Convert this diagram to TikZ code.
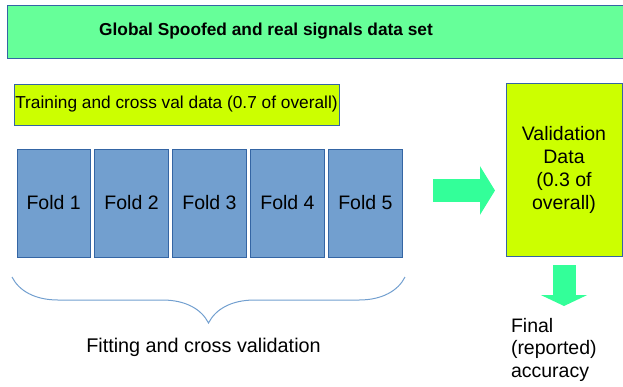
\documentclass[tikz,border=0pt]{standalone}
\usepackage{fontspec}
\setmainfont{Liberation Sans}
\usetikzlibrary{positioning, arrows.meta, decorations.pathreplacing}
\definecolor{boxgreen}{HTML}{66FF99}
\definecolor{dataylw}{HTML}{CCFF00}
\definecolor{foldblue}{HTML}{729FCF}
\definecolor{edgeblue}{HTML}{3465A4}
\definecolor{arrowgreen}{HTML}{33FF99}
\tikzset{
    x=1pt, y=-1pt, % Work in pixel units of the original drawing
    every node/.style={inner sep=0pt, outer sep=0pt},
    box/.style={ % Sets the properties for each filled box
        draw=edgeblue,
        line width=1pt
    },
    fold/.style={
        box,
        fill=foldblue,
        minimum width=73.2pt,
        minimum height=108pt,
        font=\fontsize{19.5}{23}\selectfont
    },
    fat arrow/.style={ % Thick block arrows
        arrowgreen,
        line width=23pt,
        -{Triangle[width=48pt, length=15pt]}
    }
}

\begin{document}
\begin{tikzpicture}
    \useasboundingbox (0,0) rectangle (623,386);
    \clip (0,0) rectangle (623,386);

    \node[box, fill=boxgreen, anchor=north west, minimum width=625pt, minimum height=53pt] (global) at (7,5) {};
    \node[font=\bfseries\fontsize{17.3}{20}\selectfont] (title) at (266,31.5) {Global Spoofed and real signals data set};

    \node[box, fill=dataylw, anchor=north west, minimum width=325pt, minimum height=41pt,
          font=\fontsize{17.3}{20}\selectfont] (train) at (14,84) {Training and cross val data (0.7 of overall)};

    \node[fold, anchor=north west]      (fold1) at (17,149) {Fold 1};
    \node[fold, right=4.75pt of fold1]  (fold2) {Fold 2};
    \node[fold, right=4.75pt of fold2]  (fold3) {Fold 3};
    \node[fold, right=4.75pt of fold3]  (fold4) {Fold 4};
    \node[fold, right=4.75pt of fold4]  (fold5) {Fold 5};

    \node[box, fill=dataylw, anchor=north west, minimum width=116pt, minimum height=173pt,
          align=center, font=\fontsize{19.5}{23}\selectfont] (valid) at (506,83) {Validation\\Data\\(0.3 of\\overall)};

    \coordinate (split) at (433,190.5);
    \draw[fat arrow, shorten >=11pt] (split) -- (split -| valid.west);
    \draw[fat arrow, -{Triangle[width=46pt, length=11pt]}]
            ([yshift=-9pt]valid.south) -- ([yshift=-50pt]valid.south);

    \node[anchor=north west, align=left, font=\fontsize{19.5}{22.5}\selectfont] (final) at (511,318) {Final\\(reported)\\accuracy};

    % brace under the folds
    \draw[foldblue, line width=1pt, decorate, decoration={brace, mirror, amplitude=46pt}]
            ([xshift=-5pt, yshift=-20pt]fold1.south west) -- ([xshift=3pt, yshift=-20pt]fold5.south east);
    \node[font=\fontsize{19.8}{23}\selectfont] (fitting) at (203.5,347) {Fitting and cross validation};
\end{tikzpicture}
\end{document}
